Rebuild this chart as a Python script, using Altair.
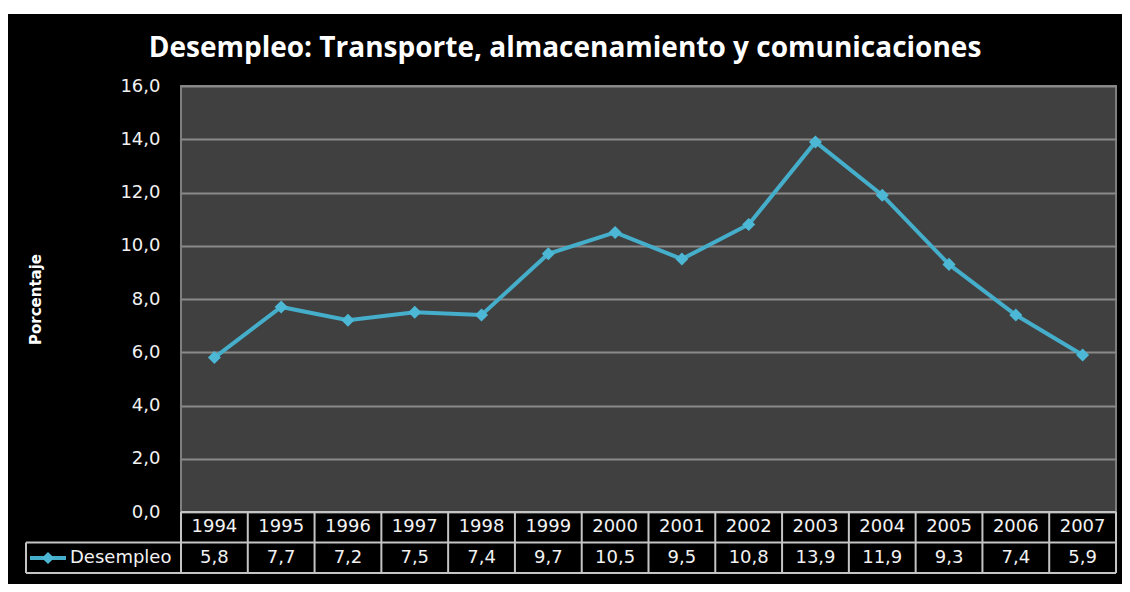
import altair as alt
import pandas as pd

# ---- data ----
years = ["1994", "1995", "1996", "1997", "1998", "1999", "2000",
         "2001", "2002", "2003", "2004", "2005", "2006", "2007"]
values = [5.8, 7.7, 7.2, 7.5, 7.4, 9.7, 10.5, 9.5, 10.8, 13.9, 11.9, 9.3, 7.4, 5.9]
y_ticks = [0, 2, 4, 6, 8, 10, 12, 14, 16]
chart_title = "Desempleo: Transporte, almacenamiento y comunicaciones"
y_title = "Porcentaje"
series_name = "Desempleo"

df = pd.DataFrame({
    "year": years,
    "value": values,
    "label": [f"{v:.1f}".replace(".", ",") for v in values],
})
one = pd.DataFrame({"k": [0]})

W, H = 935, 426
LINE = "#45AECB"
TABLE_LINE = "#c4c4c4"
FONT = "DejaVu Sans"
TXT = "#f2f2f2"

xenc = alt.X("year:N", sort=years, axis=None,
             scale=alt.Scale(paddingInner=0, paddingOuter=0))

base = alt.Chart(df)

# white strip at the top of the page (outside the black frame)
top_strip = alt.Chart(one).mark_rect(color="white").encode(
    x=alt.value(-173), x2=alt.value(941), y=alt.value(-80), y2=alt.value(-72))

title_txt = alt.Chart(pd.DataFrame({"t": [chart_title]})).mark_text(
    font="Open Sans", fontSize=28, fontWeight="bold", color="white",
    align="center", baseline="alphabetic").encode(
    x=alt.value(384), y=alt.value(-29), text="t:N")

line = base.mark_line(color=LINE, strokeWidth=4).encode(
    x=xenc,
    y=alt.Y("value:Q", scale=alt.Scale(domain=[0, 16]),
            axis=alt.Axis(values=y_ticks,
                          labelExpr="replace(format(datum.value,'.1f'),'.',',')",
                          grid=True, gridColor="#8a8a8a", gridWidth=2,
                          domain=False, ticks=False, labelPadding=21,
                          labelFont=FONT, labelFontSize=18, labelColor=TXT,
                          title=y_title, titleFont=FONT, titleFontSize=15,
                          titleFontWeight="bold", titleColor="white",
                          titleAngle=-90, titleX=-141, titleY=213,
                          titleAlign="center", titleBaseline="alphabetic")),
)
points = base.mark_point(shape="diamond", filled=True, size=170,
                         color="#4cb8d6", opacity=1).encode(x=xenc, y="value:Q")

# table text
year_text = base.mark_text(font=FONT, fontSize=18, color=TXT, baseline="middle").encode(
    x=xenc, y=alt.value(441), text="year:N")
val_text = base.mark_text(font=FONT, fontSize=18, color=TXT, baseline="middle").encode(
    x=xenc, y=alt.value(472), text="label:N")

# table grid
vlines = base.mark_rule(color=TABLE_LINE, strokeWidth=2).encode(
    x=alt.X("year:N", sort=years, axis=None, bandPosition=0),
    y=alt.value(426), y2=alt.value(487))
rline = alt.Chart(one).mark_rule(color=TABLE_LINE, strokeWidth=2).encode(
    x=alt.value(935), y=alt.value(426), y2=alt.value(487))
lline = alt.Chart(one).mark_rule(color=TABLE_LINE, strokeWidth=2).encode(
    x=alt.value(-155), y=alt.value(456.5), y2=alt.value(487))
h_top = alt.Chart(one).mark_rule(color=TABLE_LINE, strokeWidth=2).encode(
    x=alt.value(0), x2=alt.value(935), y=alt.value(426))
h_mid = alt.Chart(one).mark_rule(color=TABLE_LINE, strokeWidth=2).encode(
    x=alt.value(-155), x2=alt.value(935), y=alt.value(456.5))
h_bot = alt.Chart(one).mark_rule(color=TABLE_LINE, strokeWidth=2).encode(
    x=alt.value(-155), x2=alt.value(935), y=alt.value(487))

# legend key in the table
leg_line = alt.Chart(one).mark_rule(color=LINE, strokeWidth=4).encode(
    x=alt.value(-151), x2=alt.value(-115), y=alt.value(472))
leg_pt = alt.Chart(one).mark_point(shape="diamond", filled=True, size=150,
                                   color="#4cb8d6", opacity=1).encode(
    x=alt.value(-133), y=alt.value(472))
leg_txt = alt.Chart(pd.DataFrame({"t": [series_name]})).mark_text(
    font=FONT, fontSize=18, color=TXT, align="left", baseline="middle").encode(
    x=alt.value(-111), y=alt.value(472), text="t:N")

chart = alt.layer(
    top_strip, title_txt, line, points, year_text, val_text,
    vlines, rline, lline, h_top, h_mid, h_bot, leg_line, leg_pt, leg_txt,
).properties(
    width=W, height=H,
    autosize=alt.AutoSizeParams(type="none"),
    padding={"left": 173, "top": 78, "right": 6, "bottom": 72},
    background="black",
).configure_view(fill="#404040", stroke="#7f7f7f", strokeWidth=2)

chart.save("out.html", embed_options={"renderer": "svg", "actions": False})
